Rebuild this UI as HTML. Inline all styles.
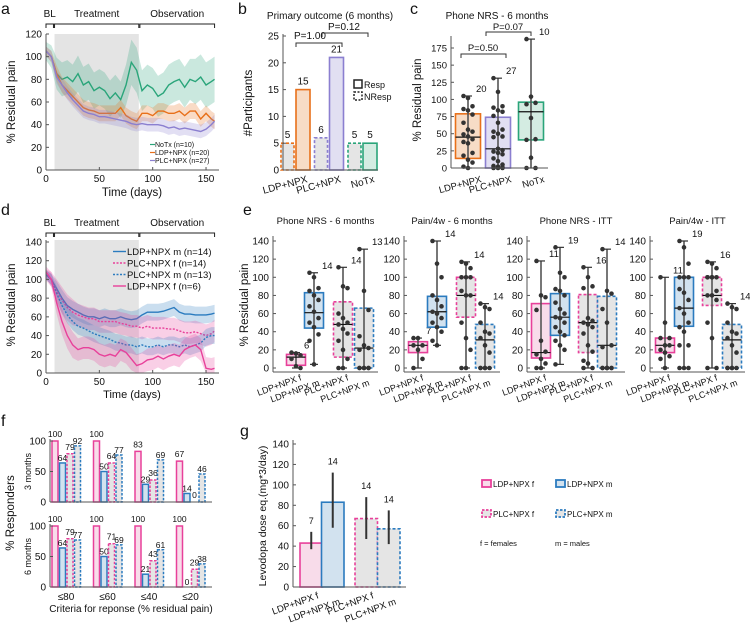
<!DOCTYPE html>
<html><head><meta charset="utf-8"><style>
html,body{margin:0;padding:0;background:#fff;}
svg{display:block;font-family:"Liberation Sans",sans-serif;}
</style></head><body>
<svg id="fig" width="750" height="624" viewBox="0 0 750 624" xmlns="http://www.w3.org/2000/svg"></svg>
<script>
// ---------- DATA ----------
const days = [0,5,10,15,20,25,30,35,40,45,50,55,60,65,70,75,80,85,90,95,100,105,110,115,120,125,130,135,140,145,150,155,158];
const aNoTx = [105,100,85,80,82,78,85,75,78,70,73,70,63,68,62,75,95,88,70,75,72,65,68,75,78,80,73,80,78,82,75,78,80];
const aNoTxErr = [8,10,14,15,15,15,16,16,16,16,16,16,16,16,16,18,20,20,18,18,18,18,18,18,18,18,18,18,20,20,20,20,20];
const aLdp = [105,100,85,75,70,65,60,55,53,52,50,50,50,50,55,48,45,43,50,50,48,52,52,50,50,52,48,52,52,45,50,45,43];
const aLdpErr = [4,5,7,7,7,7,7,7,7,7,7,7,7,7,7,7,7,7,7,7,7,7,7,7,7,7,7,7,7,7,7,7,7];
const aPlc = [105,100,82,75,68,62,57,52,50,49,47,47,46,45,44,43,41,40,41,40,40,40,39,37,38,36,37,36,35,34,36,40,43];
const aPlcErr = [4,5,6,6,6,6,6,6,6,6,6,6,6,6,6,6,6,6,6,6,6,6,6,6,6,6,6,6,6,6,6,6,6];

const dLdpM = [105,100,90,80,72,68,65,62,60,60,58,60,58,58,60,58,57,58,62,65,65,65,66,68,70,65,63,63,62,62,62,63,64];
const dPlcF = [105,100,88,78,70,65,62,60,58,58,55,55,55,55,53,52,50,50,48,50,48,48,48,47,47,45,43,43,44,42,40,42,45];
const dPlcM = [105,100,85,72,62,55,50,48,45,42,40,38,36,33,32,30,30,28,30,28,28,30,28,30,30,28,30,28,30,32,38,40,40];
const dLdpF = [108,100,75,55,40,30,25,27,27,25,20,18,20,18,25,22,15,8,10,14,15,18,15,18,20,18,25,28,30,25,5,4,5];
const dErrM = [5,6,8,9,9,9,9,9,9,9,9,9,9,9,9,9,9,9,9,9,9,9,9,9,9,9,9,9,9,9,9,9,9];
const dErrF = [6,8,12,14,14,14,12,12,12,12,12,12,12,12,12,12,12,12,12,12,12,12,12,12,12,12,12,12,12,12,12,12,12];

const bCats = ["LDP+NPX","PLC+NPX","NoTx"];
const bResp = [15,21,5];
const bNResp = [5,6,5];

const cCats = ["LDP+NPX","PLC+NPX","NoTx"];
const cBoxes = [[0,14,45,79,105],[0,0,28,74,131],[0,41,82,96,188]];
const cPoints = [
 [105,102,90,86,84,78,66,56,53,49,46,42,38,36,22,18,12,8,2,0],
 [131,111,90,88,84,82,76,66,56,53,50,46,45,28,26,24,22,20,14,10,5,3,2,1,0,0,0],
 [188,104,95,93,73,42,41,15,0,0]];
const cCounts = [20,27,10];

const eTitles = ["Phone NRS - 6 months","Pain/4w - 6 months","Phone NRS - ITT","Pain/4w - ITT"];
const eCats = ["LDP+NPX f","LDP+NPX m","PLC+NPX f","PLC+NPX m"];
const eBoxes = [
 [[0,3,12,15,17],[4,44,61,83,105],[0,12,48,73,111],[0,0,22,66,131]],
 [[0,17,25,29,33],[25,45,62,79,140],[0,56,80,100,117],[0,0,31,48,71]],
 [[0,11,17,71,118],[4,36,56,82,133],[0,17,50,81,111],[0,0,25,79,131]],
 [[0,17,25,33,100],[0,46,66,100,140],[0,69,80,100,117],[0,0,31,48,71]]];
const ePoints = [
 [[17,16,14,10,2,0],[105,100,88,85,80,75,68,62,55,50,45,37,30,4],[111,90,88,60,55,50,48,43,38,30,20,10,0,0],[131,85,64,35,25,22,20,0,0,0,0,0,0]],
 [[33,33,25,25,20,10,0],[140,115,100,80,75,68,62,60,55,50,45,40,30,25],[117,115,110,100,100,100,85,80,80,50,33,20,0,0],[71,67,65,50,40,38,33,25,17,0,0,0,0,0]],
 [[118,80,78,64,30,18,15,10,5,0,0],[133,105,100,87,85,80,72,65,60,56,55,50,45,40,36,30,25,20,4],[111,100,90,88,55,52,50,48,45,38,25,18,8,5,0,0],[131,85,82,65,50,25,23,0,0,0,0,0,0,0]],
 [[100,50,33,33,25,25,20,17,13,10,0],[140,133,115,100,100,100,87,83,75,66,60,50,45,40,25,25,0,0,0],[117,115,110,100,100,100,100,100,85,80,80,75,50,33,0,0],[71,67,65,50,40,38,33,25,17,0,0,0,0,0]]];
const eCounts = [[6,14,14,13],[7,14,14,14],[11,19,16,14],[11,19,16,14]];

const fCats = ["≤80","≤60","≤40","≤20"];
const f3mo = [[100,64,79,92],[100,50,64,77],[83,29,36,69],[67,14,0,46]];
const f6mo = [[100,64,79,77],[100,50,71,69],[100,21,43,61],[100,0,29,38]];

const gCats = ["LDP+NPX f","LDP+NPX m","PLC+NPX f","PLC+NPX m"];
const gMean = [43,83,67,57];
const gLo = [37,58,47,42];
const gHi = [54,112,88,75];
const gCounts = [7,14,14,14];

// ---------- HELPERS ----------
const NS="http://www.w3.org/2000/svg";
const svg=document.getElementById('fig');
function mk(tag,attrs,parent){const e=document.createElementNS(NS,tag);for(const k in attrs)e.setAttribute(k,attrs[k]);(parent||svg).appendChild(e);return e;}
function txt(x,y,s,size,anchor,parent,extra){const e=mk('text',Object.assign({x:x,y:y,'font-size':size,'text-anchor':anchor||'start',fill:'#111'},extra||{}),parent);e.textContent=s;return e;}
function lin(d0,d1,r0,r1){return v=>r0+(v-d0)*(r1-r0)/(d1-d0);}
const AX='#555';
const C={orange:'#e8701a',orangeF:'#f7dcc6',purple:'#8b7fd0',purpleF:'#e1dff2',green:'#2aa57a',greenF:'#d4ece2',pink:'#e8409a',pinkF:'#f8dcea',blue:'#2b7bbf',blueF:'#d2e2ef',gray:'#e5e5e5'};

function yAxis(x,y0,y1,ticks,sc,size){
  mk('line',{x1:x,y1:y0,x2:x,y2:y1,stroke:AX,'stroke-width':1});
  ticks.forEach(t=>{const y=sc(t);mk('line',{x1:x,y1:y,x2:x+3,y2:y,stroke:AX});txt(x-4,y+3.5,String(t),size,'end');});
}
function letter(x,y,s){const e=txt(x,y,s,16,'start');}
function brackets(xs,y){
  const lab=[["BL",0,7],["Treatment",8,87],["Observation",88,158]];
  lab.forEach(l=>{const a=xs(l[1]),b=xs(l[2]);mk('path',{d:`M${a},${y+4}V${y}H${b}V${y+4}`,fill:'none',stroke:'#222','stroke-width':1});
    const t=txt((a+b)/2,y-7,l[0],10,'middle');});
}
function series(g,xs,ys,vals,err,color,dash,name){
  let up='',lo='';
  days.forEach((d,i)=>{up+=(i?'L':'M')+xs(d)+','+ys(vals[i]+err[i]);});
  for(let i=days.length-1;i>=0;i--)lo+='L'+xs(days[i])+','+ys(Math.max(0,vals[i]-err[i]));
  const band=mk('path',{d:up+lo+'Z',fill:color,'fill-opacity':0.25,stroke:'none'},g);
  
  
  let p='';days.forEach((d,i)=>{p+=(i?'L':'M')+xs(d)+','+ys(vals[i]);});
  const ln=mk('path',{d:p,fill:'none',stroke:color,'stroke-width':1.4,'stroke-dasharray':dash||'none'},g);
  
  
}
function box(g,cx,w,b,pts,stroke,fill,dashed,ys,count,name){
  const r=mk('rect',{x:cx-w/2,y:ys(b[3]),width:w,height:Math.max(0.5,ys(b[1])-ys(b[3])),fill:fill,stroke:stroke,'stroke-width':1.6,'stroke-dasharray':dashed?'3,2':'none'},g);
  
  
  mk('line',{x1:cx,y1:ys(b[0]),x2:cx,y2:ys(b[4]),stroke:'#555','stroke-width':1.6},g);
  mk('line',{x1:cx-4,y1:ys(b[0]),x2:cx+4,y2:ys(b[0]),stroke:'#333','stroke-width':1.2},g);
  mk('line',{x1:cx-4,y1:ys(b[4]),x2:cx+4,y2:ys(b[4]),stroke:'#333','stroke-width':1.2},g);
  mk('line',{x1:cx-w/2,y1:ys(b[2]),x2:cx+w/2,y2:ys(b[2]),stroke:'#111','stroke-width':1.2},g);
  pts.forEach((v,i)=>{const off=((i%3)-1)*4.5;const d=mk('circle',{cx:cx+off,cy:ys(v),r:2.3,fill:'#333'},g);
    
    });
  const t=txt(cx+8,ys(b[4])-4,String(count),9.5,'start',g);
  
  
}
function rotLabel(x,y,s,size,g,ang){const t=txt(x,y,s,size,'end',g,{transform:`rotate(${ang||-18} ${x} ${y})`});return t;}

// ---------- PANEL A ----------
(function(){
  const g=mk('g',{});
  const xs=lin(0,160,46,216.7), ys=lin(0,120,170,34);
  mk('rect',{x:xs(8),y:34,width:xs(87)-xs(8),height:136,fill:'#e4e4e4'},g);
  series(g,xs,ys,aNoTx,aNoTxErr,C.green,null,'notx');
  series(g,xs,ys,aLdp,aLdpErr,C.orange,null,'ldp-npx');
  series(g,xs,ys,aPlc,aPlcErr,C.purple,null,'plc-npx');
  yAxis(46,34,170,[0,20,40,60,80,100,120],ys,10);
  mk('line',{x1:46,y1:170,x2:219,y2:170,stroke:AX});
  [0,50,100,150].forEach(t=>{mk('line',{x1:xs(t),y1:170,x2:xs(t),y2:167,stroke:AX});txt(xs(t),182,String(t),10,'middle');});
  const xt=txt(132,196,'Time (days)',11.5,'middle');
  const yt=txt(0,0,'% Residual pain',11.5,'middle',null,{transform:'translate(15,102) rotate(-90)'});
  brackets(xs,24);
  [["NoTx (n=10)",C.green],["LDP+NPX (n=20)",C.orange],["PLC+NPX (n=27)",C.purple]].forEach((l,i)=>{
    const y=147+i*8;mk('line',{x1:150,y1:y-2.5,x2:155,y2:y-2.5,stroke:l[1],'stroke-width':1.2});
    const t=txt(155,y,l[0],7,'start');});
  letter(1,14,'a');
})();

// ---------- PANEL B ----------
(function(){
  const g=mk('g',{});
  const ys=lin(0,25,170,36);
  const cols=[[C.orange,C.orangeF],[C.purple,C.purpleF],[C.green,C.greenF]];
  bCats.forEach((c,i)=>{
    const x0=281+i*33.5;
    const b1=mk('rect',{x:x0,y:ys(bNResp[i]),width:13,height:ys(0)-ys(bNResp[i]),fill:C.gray,stroke:cols[i][0],'stroke-width':1.6,'stroke-dasharray':'3,2'},g);
    
    const b2=mk('rect',{x:x0+15,y:ys(bResp[i]),width:14,height:ys(0)-ys(bResp[i]),fill:cols[i][1],stroke:cols[i][0],'stroke-width':1.6},g);
    
    txt(x0+6.5,ys(bNResp[i])-5,String(bNResp[i]),10,'middle',g);
    txt(x0+22,ys(bResp[i])-5,String(bResp[i]),10,'middle',g);
    rotLabel(x0+27,182,c,10,g,-15);
  });
  yAxis(283,34,170,[0,5,10,15,20,25],ys,10);
  mk('line',{x1:283,y1:170,x2:378,y2:170,stroke:AX});
  const yt=txt(0,0,'#Participants',11.5,'middle',null,{transform:'translate(252,103) rotate(-90)'});
  const tt=txt(330,19,'Primary outcome (6 months)',10,'middle');
  mk('path',{d:'M296,47V43H342V47',fill:'none',stroke:'#333'});txt(310,39,'P=1.00',10,'middle');
  mk('path',{d:'M322,37V33H368V37',fill:'none',stroke:'#333'});txt(344,30,'P=0.12',10,'middle');
  mk('rect',{x:354,y:80,width:8,height:8,fill:'#fff',stroke:'#222','stroke-width':1.5});
  mk('rect',{x:354,y:92,width:8,height:8,fill:'#fff',stroke:'#222','stroke-width':1.5,'stroke-dasharray':'2,1.5'});
  const l1=txt(364,88,'Resp',9,'start');
  const l2=txt(364,100,'NResp',9,'start');
  letter(238,14,'b');
})();

// ---------- PANEL C ----------
(function(){
  const g=mk('g',{});
  const ys=lin(0,175,168,48);
  const xs=[468,498,531];
  const cols=[[C.orange,C.orangeF],[C.purple,C.purpleF],[C.green,C.greenF]];
  yAxis(451,36,168,[0,25,50,75,100,125,150,175],ys,9.5);
  mk('line',{x1:451,y1:168,x2:548,y2:168,stroke:AX});
  cCats.forEach((c,i)=>{box(g,xs[i],25,cBoxes[i],cPoints[i],cols[i][0],cols[i][1],false,ys,cCounts[i],'box-'+c);rotLabel(xs[i]+14,182,c,9.5,g,-15);});
  const yt=txt(0,0,'% Residual pain',11.5,'middle',null,{transform:'translate(421,100) rotate(-90)'});
  const tt=txt(497,19,'Phone NRS - 6 months',10,'middle');
  mk('path',{d:'M461,58V54H506V58',fill:'none',stroke:'#333'});txt(483,51,'P=0.50',9.5,'middle');
  mk('path',{d:'M486,36V32H531V36',fill:'none',stroke:'#333'});txt(508,30,'P=0.07',9.5,'middle');
  letter(410,14,'c');
})();

// ---------- PANEL D ----------
(function(){
  const g=mk('g',{});
  const xs=lin(0,160,46,216.7), ys=lin(0,140,373,242);
  mk('rect',{x:xs(8),y:240,width:xs(87)-xs(8),height:133,fill:'#e4e4e4'},g);
  series(g,xs,ys,dLdpM,dErrM,C.blue,null,'ldp-npx-m');
  series(g,xs,ys,dPlcF,dErrF,C.pink,'2,1.5','plc-npx-f');
  series(g,xs,ys,dPlcM,dErrM,C.blue,'2,1.5','plc-npx-m');
  series(g,xs,ys,dLdpF,dErrF,C.pink,null,'ldp-npx-f');
  yAxis(46,240,373,[0,20,40,60,80,100,120,140],ys,10);
  mk('line',{x1:46,y1:373,x2:219,y2:373,stroke:AX});
  [0,50,100,150].forEach(t=>{mk('line',{x1:xs(t),y1:373,x2:xs(t),y2:370,stroke:AX});txt(xs(t),385,String(t),10,'middle');});
  const xt=txt(132,398,'Time (days)',11,'middle');
  const yt=txt(0,0,'% Residual pain',11.5,'middle',null,{transform:'translate(15,305) rotate(-90)'});
  brackets(xs,233);
  [["LDP+NPX m (n=14)",C.blue,null],["PLC+NPX f (n=14)",C.pink,'2,1.5'],["PLC+NPX m (n=13)",C.blue,'2,1.5'],["LDP+NPX f (n=6)",C.pink,null]].forEach((l,i)=>{
    const y=255+i*11.5;mk('line',{x1:113,y1:y-3.5,x2:126,y2:y-3.5,stroke:l[1],'stroke-width':1.4,'stroke-dasharray':l[2]||'none'});
    const t=txt(127,y,l[0],9.5,'start');});
  letter(1,215,'d');
})();

// ---------- PANEL E ----------
(function(){
  const axX=[273,404,527,650], axEnd=[378,500,625,745];
  const centers=[[296,314,343,364],[418,437,466,485],[541,560,588,607],[665,684,712,732]];
  const ys=lin(0,140,368,241);
  const st=[[C.pink,C.pinkF,false],[C.blue,C.blueF,false],[C.pink,C.gray,true],[C.blue,C.gray,true]];
  eTitles.forEach((title,k)=>{
    const g=mk('g',{});
    yAxis(axX[k],236,372,[0,20,40,60,80,100,120,140],ys,10);
    mk('line',{x1:axX[k],y1:372,x2:axEnd[k],y2:372,stroke:AX});
    const tt=txt((axX[k]+axEnd[k])/2,224,title,9.5,'middle');
    eCats.forEach((c,i)=>{
      box(g,centers[k][i],19,eBoxes[k][i],ePoints[k][i],st[i][0],st[i][1],st[i][2],ys,eCounts[k][i],'box-'+c.replace(/[ +]/g,'-'));
      rotLabel(centers[k][i]+6,380+(i%2)*5,c,9,g,-20);
    });
  });
  const yt=txt(0,0,'% Residual pain',11.5,'middle',null,{transform:'translate(248,305) rotate(-90)'});
  letter(243,215,'e');
})();

// ---------- PANEL F ----------
(function(){
  const g=mk('g',{});
  const st=[[C.pink,C.pinkF,false],[C.blue,C.blueF,false],[C.pink,C.gray,true],[C.blue,C.gray,true]];
  const offs=[0,7.5,15,22.5];
  [[f3mo,lin(0,100,502,441),'3 months'],[f6mo,lin(0,100,587,526),'6 months']].forEach((row,r)=>{
    const data=row[0],ys=row[1];
    fCats.forEach((c,gi)=>{
      const x0=52+gi*41.5;
      data[gi].forEach((v,j)=>{
        const b=mk('rect',{x:x0+offs[j],y:ys(v),width:6,height:Math.max(0,ys(0)-ys(v)),fill:st[j][1],stroke:st[j][0],'stroke-width':1.5,'stroke-dasharray':st[j][2]?'2.5,1.5':'none'},g);
        
        
        txt(x0+offs[j]+3,ys(v)-(j%2?2:4),String(v),8.5,'middle',g);
      });
    });
    yAxis(50,ys(100)-2,ys(0),[0,50,100],ys,10);
    mk('line',{x1:50,y1:ys(0),x2:212,y2:ys(0),stroke:AX,'stroke-width':1});
    txt(0,0,row[2],9,'middle',null,{transform:`translate(31,${(ys(0)+ys(100))/2}) rotate(-90)`});
  });
  fCats.forEach((c,gi)=>{const t=txt(52+gi*41.5+14,600,c,10,'middle');});
  const xt=txt(131,612,'Criteria for reponse (% residual pain)',10,'middle');
  const yt=txt(0,0,'% Responders',11.5,'middle',null,{transform:'translate(14,513) rotate(-90)'});
  letter(1,426,'f');
})();

// ---------- PANEL G ----------
(function(){
  const g=mk('g',{});
  const ys=lin(0,140,587,444);
  const xs=[300,321.5,355,377.5], w=22.5;
  const st=[[C.pink,C.pinkF,false],[C.blue,C.blueF,false],[C.pink,C.gray,true],[C.blue,C.gray,true]];
  gCats.forEach((c,i)=>{
    const b=mk('rect',{x:xs[i],y:ys(gMean[i]),width:w,height:ys(0)-ys(gMean[i]),fill:st[i][1],stroke:st[i][0],'stroke-width':1.6,'stroke-dasharray':st[i][2]?'3,2':'none'},g);
    
    
    const e=mk('line',{x1:xs[i]+w/2,y1:ys(gLo[i]),x2:xs[i]+w/2,y2:ys(gHi[i]),stroke:'#333','stroke-width':2},g);
    
    
    txt(xs[i]+w/2,ys(gHi[i])-8,String(gCounts[i]),9,'middle',g);
    rotLabel(xs[i]+w/2+8,598+(i%2)*6,c,9.5,g,-20);
  });
  yAxis(293,440,587,[0,20,40,60,80,100,120,140],ys,10);
  mk('line',{x1:293,y1:587,x2:406,y2:587,stroke:AX});
  const yt=txt(0,0,'Levodopa dose eq.(mg*3/day)',10.5,'middle',null,{transform:'translate(266,516) rotate(-90)'});
  letter(240,436,'g');
  const leg=[["LDP+NPX f",C.pink,C.pinkF,false,481,487],["LDP+NPX m",C.blue,C.blueF,false,555,487],["PLC+NPX f",C.pink,C.gray,true,481,517],["PLC+NPX m",C.blue,C.gray,true,555,517]];
  leg.forEach(l=>{
    mk('rect',{x:l[4]+1,y:l[5]-7,width:9,height:7,fill:l[2],stroke:l[1],'stroke-width':1.8,'stroke-dasharray':l[3]?'2.5,1.5':'none'});
    const t=txt(l[4]+12,l[5],l[0],8,'start');
  });
  txt(480,546,'f = females',7.5,'start');
  txt(555,546,'m = males',7.5,'start');
})();
</script>
</body></html>
